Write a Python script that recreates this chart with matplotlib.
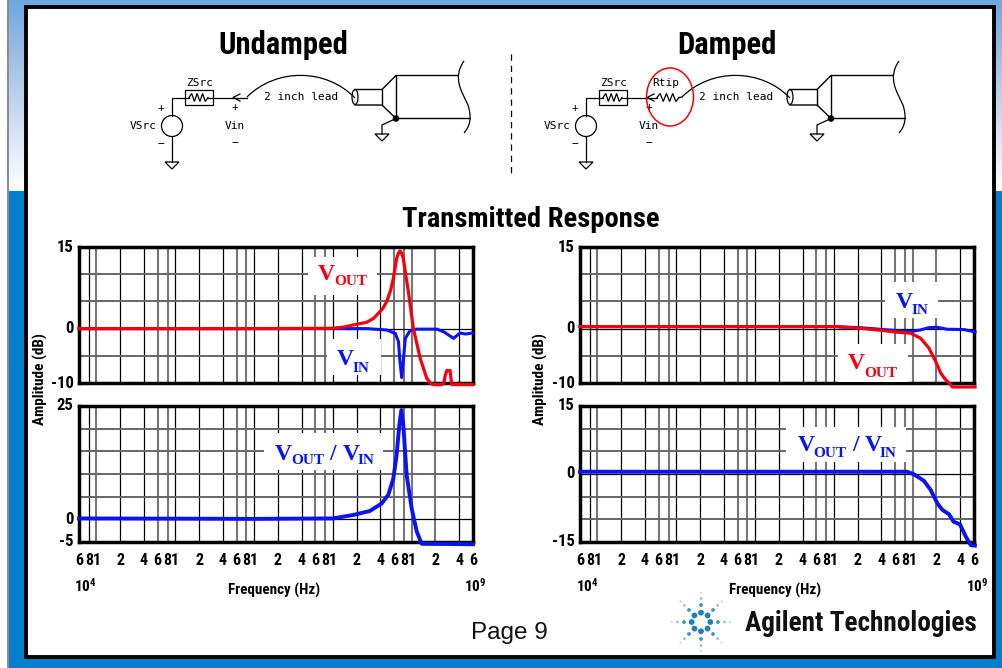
import numpy as np
import matplotlib
matplotlib.use('Agg')
import matplotlib.pyplot as plt
from matplotlib.colors import LinearSegmentedColormap
from matplotlib.patches import Rectangle, Ellipse, Circle, PathPatch, Polygon
from matplotlib.path import Path
from matplotlib.ticker import NullLocator
from matplotlib.transforms import ScaledTranslation

NARROW = ['Roboto Condensed', 'Roboto', 'DejaVu Sans']
plt.rcParams['font.family'] = NARROW
plt.rcParams['mathtext.fontset'] = 'custom'
plt.rcParams['mathtext.bf'] = 'Roboto Condensed:bold'

W, H = 1003, 668
RED = '#f5000f'
BLUE = '#0a14f0'

# Frequency grid of the plots
tick_freqs = [6e3, 8e3, 1e4, 2e4, 4e4, 6e4, 8e4, 1e5, 2e5, 4e5, 6e5, 8e5, 1e6, 2e6, 4e6,
              6e6, 8e6, 1e7, 2e7, 4e7, 6e7, 8e7, 1e8, 2e8, 4e8, 6e8]
tick_labels = ['6', '8', '1', '2', '4', '6', '8', '1', '2', '4', '6', '8', '1', '2', '4',
               '6', '8', '1', '2', '4', '6', '8', '1', '2', '4', '6']
# thin black or thick grey, the picture has both
tick_grey = [0, 0, 1, 0, 0, 1, 1, 0, 0, 0, 1, 1, 0, 0, 0,
             1, 1, 0, 0, 0, 1, 1, 1, 1, 0, 1]

# Undamped, top
und_out_f = [6e3, 1e5, 1e6, 1e7, 1.4e7, 1.81e7, 2.68e7, 3.3e7, 3.77e7, 4.3e7, 4.81e7, 5.4e7, 5.85e7, 6.44e7,
             6.8e7, 7.11e7, 7.45e7, 7.83e7, 9.08e7, 1.05e8, 1.28e8, 1.55e8, 1.75e8, 1.88e8, 2.40e8, 2.55e8,
             2.65e8, 2.79e8, 3.07e8, 3.22e8, 6e8]
und_out_db = [0, 0, 0, 0.06, 0.3, 0.67, 1.16, 1.9, 2.8, 3.7, 4.94, 7, 9.2, 12.87,
              13.9, 14.27, 13.9, 12.87, 6.77, 0.06, -5.4, -9.1, -10.1, -10.3, -10.3, -10.1,
              -8.8, -7.7, -7.7, -10.3, -10.3]
und_in_f = [6e3, 1e5, 1e6, 1e7, 2.7e7, 4.8e7, 6.2e7, 6.8e7, 7.1e7, 7.46e7, 7.83e7, 8.3e7, 9.5e7,
            1.15e8, 2.1e8, 2.6e8, 3.4e8, 4.1e8, 4.8e8, 6e8]
und_in_db = [0, 0, 0, 0, 0, -0.25, -0.9, -2.4, -6, -9, -6, -1.8, -0.4,
             -0.1, -0.1, -0.65, -1.8, -0.8, -1.0, -0.8]

# Undamped, bottom
und_ratio_f = [6e3, 1e5, 1e6, 1e7, 1.81e7, 2.95e7, 4.16e7, 5.05e7, 5.85e7, 6.44e7, 6.97e7, 7.4e7, 7.83e7,
               8.63e7, 1e8, 1.16e8, 1.34e8, 6e8]
und_ratio_db = [0.2, 0.15, 0.1, 0.2, 0.96, 1.84, 3.5, 5.4, 9, 14.2, 20.8, 24.1, 20.8,
                9.8, 2.4, -2.7, -5.4, -5.5]

# Damped, top
dmp_out_f = [6e3, 1e5, 1e6, 1.05e7, 2.4e7, 4.32e7, 6.38e7, 9.44e7, 1.26e8, 1.61e8, 1.96e8, 2.27e8, 2.62e8,
             2.9e8, 3.19e8, 6.2e8]
dmp_out_db = [0.37, 0.37, 0.37, 0.37, 0, -0.37, -0.67, -0.85, -1.77, -3.6, -6.04, -8.17, -9.4,
              -10, -10.73, -10.73]
dmp_in_f = [6e3, 1e5, 1e6, 1.05e7, 2.4e7, 4.32e7, 6.38e7, 9.44e7, 1.26e8, 1.61e8, 2.04e8, 2.75e8, 4.47e8, 6.2e8]
dmp_in_db = [0.37, 0.37, 0.37, 0.37, 0.12, -0.18, -0.37, -0.55, -0.24, 0.18, 0.24, -0.12, -0.18, -0.6]

# Damped, bottom
dmp_ratio_f = [6e3, 1e5, 1e6, 1e7, 8.5e7, 1.04e8, 1.39e8, 1.69e8, 2.06e8, 2.38e8, 2.9e8, 3.29e8, 3.98e8,
               4.72e8, 5.46e8, 6.17e8]
dmp_ratio_db = [0.5, 0.5, 0.5, 0.5, 0.5, -0.07, -1.5, -3.5, -6.5, -7.9, -8.9, -10.5, -11.1,
                -13.8, -15.7, -15.8]


def px_axes(fig, left, top, right, bottom, zorder=1):
    return fig.add_axes([left / W, 1 - bottom / H, (right - left) / W, (bottom - top) / H], zorder=zorder)


def draw_plot(fig, box, ylim, ylabels, show_x, series):
    ax = px_axes(fig, *box)
    ax.set_xscale('log')
    ax.set_xlim(6e3, 6e8)
    ax.set_ylim(*ylim)
    ax.xaxis.set_minor_locator(NullLocator())
    ax.set_xticks(tick_freqs)
    ax.set_xticklabels(tick_labels if show_x else [''] * len(tick_labels),
                       fontsize=11.5, fontweight='bold')
    ax.set_yticks(np.arange(ylim[0], ylim[1] + 1, 5))
    ax.set_yticklabels([str(v) if v in ylabels else '' for v in np.arange(ylim[0], ylim[1] + 1, 5)],
                       fontsize=12, fontweight='bold')
    ax.tick_params(axis='both', length=0, pad=4)
    ax.tick_params(axis='x', pad=8)
    # the amplitude numbers sit a little above their lines
    lift = ScaledTranslation(0, 1.5 / 100, fig.dpi_scale_trans)
    for label in ax.get_yticklabels():
        label.set_transform(label.get_transform() + lift)
    ax.grid(True)
    for line, grey in zip(ax.get_xgridlines(), tick_grey):
        line.set_color('#777777' if grey else 'black')
        line.set_linewidth(1.5 if grey else 0.9)
    for line, val in zip(ax.get_ygridlines(), np.arange(ylim[0], ylim[1] + 1, 5)):
        line.set_color('black' if val == 0 else '#666666')
        line.set_linewidth(0.9 if val == 0 else 1.4)
    for spine in ax.spines.values():
        spine.set_linewidth(2.5)
    for f, db, col, lw in series:
        ax.plot(f, db, color=col, linewidth=lw, clip_on=False, zorder=3, solid_joinstyle='round')
    return ax


fig = plt.figure(figsize=(W / 100, H / 100), dpi=100, facecolor='white')

# Slide background and all drawings share one axes in pixel coordinates
bg = fig.add_axes([0, 0, 1, 1], zorder=0)
cmap = LinearSegmentedColormap.from_list('slide', ['#6ca8df', '#a4c2e8', '#d5e0f3', '#ffffff'])
bg.imshow(np.linspace(0, 1, 200).reshape(-1, 1), cmap=cmap, aspect='auto', extent=(9, W, 191, 0))
bg.add_patch(Rectangle((9, 191), W - 9, H - 191, facecolor='#0080cc', edgecolor='none'))
bg.plot([8.5, 8.5], [0, H], color='#777777', linewidth=1.2)
bg.add_patch(Rectangle((26, 6.5), 968, 650, facecolor='white', edgecolor='black', linewidth=2.8, zorder=2))
bg.set_xlim(0, W)
bg.set_ylim(H, 0)
bg.axis('off')


def wire(pts, color='black', lw=0.9):
    pts = np.array(pts)
    bg.plot(pts[:, 0], pts[:, 1], color=color, linewidth=lw, zorder=3, solid_joinstyle='miter')


def ground(x, y):
    bg.add_patch(Polygon([(x - 7, y), (x + 7, y), (x, y + 7)], closed=True, fill=False,
                         edgecolor='black', linewidth=0.9, zorder=3))


def zigzag(x0, x1, y):
    xs = np.linspace(x0, x1, 8)
    ys = [y, y - 4, y + 4, y - 4, y + 4, y - 4, y + 4, y]
    wire(np.column_stack([xs, ys]))


def schem_text(x, y, s):
    bg.text(x, y, s, fontsize=8, family='DejaVu Sans Mono', ha='center', va='center', zorder=3)


def draw_circuit(dx, damped):
    # source side
    sx = 172 + dx
    bg.add_patch(Circle((sx, 126), 10.5, fill=False, edgecolor='black', linewidth=0.9, zorder=3))
    wire([(sx, 115.5), (sx, 97.5), (sx + 13, 97.5)])
    bg.add_patch(Rectangle((sx + 13, 90), 28, 15, fill=False, edgecolor='black', linewidth=0.9, zorder=3))
    wire([(sx + 13, 97.5), (sx + 17, 97.5)])
    zigzag(sx + 17, sx + 36, 97.5)
    wire([(sx + 36, 97.5), (sx + 41, 97.5)])
    wire([(sx, 136.5), (sx, 162)])
    ground(sx, 162)
    wire([(sx + 68, 94), (sx + 61, 97.5), (sx + 68, 101)])
    schem_text(sx + 28, 83, 'ZSrc')
    schem_text(sx - 29, 126, 'VSrc')
    schem_text(sx - 11, 108, '+')
    schem_text(sx - 11, 144, '\u2212')
    schem_text(sx + 63, 107, '+')
    schem_text(sx + 63, 126, 'Vin')
    schem_text(sx + 63, 143, '\u2212')

    # lead and probe body
    tx = 396 + (435 if damped else 0)
    lead_start = 682 if damped else 247
    if damped:
        wire([(sx + 41, 97.5), (sx + 71, 97.5)])
        zigzag(sx + 71, sx + 93, 97.5)
        wire([(sx + 93, 97.5), (lead_start, 97)])
        schem_text(666, 83, 'Rtip')
        bg.add_patch(Ellipse((670, 97), 47, 58, fill=False, edgecolor=RED, linewidth=1.1, zorder=4))
    else:
        wire([(sx + 41, 97.5), (lead_start, 97.5)])
    mid = (lead_start + tx - 41) / 2
    bg.add_patch(PathPatch(Path([(lead_start, 97), (mid - 25, 68), (mid + 25, 68), (tx - 41, 98)],
                                [Path.MOVETO, Path.CURVE4, Path.CURVE4, Path.CURVE4]),
                           fill=False, edgecolor='black', linewidth=0.9, zorder=3))
    schem_text(mid, 97, '2 inch lead')
    bg.add_patch(Ellipse((tx - 41, 97), 6, 15, fill=False, edgecolor='black', linewidth=0.9, zorder=3))
    wire([(tx - 41, 89.5), (tx - 14, 89.5), (tx, 75.5), (tx + 62, 75.5)], lw=1.0)
    wire([(tx - 41, 105), (tx - 14, 105), (tx, 118.5), (tx + 74, 118.5)], lw=1.0)
    wire([(tx - 14, 89.5), (tx - 14, 105)], lw=1.0)
    wire([(tx, 75.5), (tx, 118.5)], lw=1.0)
    bg.add_patch(PathPatch(Path([(tx + 68, 61), (tx + 56, 78), (tx + 66, 92), (tx + 72, 105),
                                 (tx + 76, 118), (tx + 74, 126), (tx + 68, 133)],
                                [Path.MOVETO] + [Path.CURVE4] * 6),
                           fill=False, edgecolor='black', linewidth=0.9, zorder=3))
    bg.add_patch(Circle((tx, 118.5), 2.6, color='black', zorder=4))
    wire([(tx, 118.5), (tx - 14, 125), (tx - 14, 134)])
    ground(tx - 14, 134)


draw_circuit(0, False)
draw_circuit(414, True)
bg.plot([511.5, 511.5], [54, 177], color='black', linewidth=0.9, dashes=(5, 4), zorder=3)

# Titles
bg.text(283, 54, 'Undamped', fontsize=22, fontweight='bold', ha='center', va='baseline', zorder=3)
bg.text(727, 54, 'Damped', fontsize=22, fontweight='bold', ha='center', va='baseline', zorder=3)
bg.text(531, 227, 'Transmitted Response', fontsize=20.5, fontweight='bold', ha='center', va='baseline', zorder=3)

# Plots
draw_plot(fig, (79, 247, 473, 383), (-10, 15), [15, 0, -10], False,
          [(und_in_f, und_in_db, BLUE, 2.2), (und_out_f, und_out_db, RED, 2.3)])
draw_plot(fig, (79, 406, 473, 542), (-5, 25), [25, 0, -5], True,
          [(und_ratio_f, und_ratio_db, BLUE, 2.8)])
draw_plot(fig, (580, 247, 974, 383), (-10, 15), [15, 0, -10], False,
          [(dmp_in_f, dmp_in_db, BLUE, 2.2), (dmp_out_f, dmp_out_db, RED, 2.3)])
draw_plot(fig, (580, 406, 974, 542), (-15, 15), [15, 0, -15], True,
          [(dmp_ratio_f, dmp_ratio_db, BLUE, 2.8)])

# Everything over the plots goes on one more full axes
top = fig.add_axes([0, 0, 1, 1], zorder=2)
top.set_xlim(0, W)
top.set_ylim(H, 0)
top.axis('off')
top.patch.set_alpha(0)


def white_box(x0, y0, x1, y1):
    top.add_patch(Rectangle((x0, y0), x1 - x0, y1 - y0, facecolor='white', edgecolor='none'))


def sym(x, y, sub_x, sub_y, sub, color):
    top.text(x, y, 'V', color=color, fontsize=17, fontweight='bold', family='Liberation Serif', va='baseline')
    top.text(sub_x, sub_y, sub, color=color, fontsize=11, fontweight='bold', family='Liberation Serif',
             va='baseline')


white_box(308, 257, 377, 295)
sym(318, 280, 334, 285, 'OUT', RED)
white_box(327, 339, 381, 375)
sym(337, 365, 353, 372, 'IN', BLUE)
white_box(264, 433, 383, 470)
sym(275, 460, 291, 464, 'OUT', BLUE)
top.text(329, 460, '/', color=BLUE, fontsize=17, fontweight='bold', family='Liberation Serif', va='baseline')
sym(343, 460, 358, 464, 'IN', BLUE)
white_box(885, 282, 938, 318)
sym(896, 308, 912, 314, 'IN', BLUE)
white_box(838, 344, 908, 382)
sym(848, 369, 864, 377, 'OUT', RED)
white_box(786, 427, 906, 462)
sym(798, 451, 813, 457, 'OUT', BLUE)
top.text(852, 451, '/', color=BLUE, fontsize=17, fontweight='bold', family='Liberation Serif', va='baseline')
sym(865, 451, 880, 457, 'IN', BLUE)

# Axis captions
for x, y in [(40, 379), (540, 379)]:
    top.text(x, y, 'Amplitude (dB)', fontsize=11, fontweight='bold', rotation=90, ha='center', va='center')
for x, lo, hi in [(274, 85, 475), (775, 587, 977)]:
    top.text(x, 590, 'Frequency (Hz)', fontsize=10.8, fontweight='bold', ha='center', va='center')
    top.text(lo, 586, r'$\mathbf{10^{4}}$', fontsize=11, ha='center', va='center')
    top.text(hi, 586, r'$\mathbf{10^{9}}$', fontsize=11, ha='center', va='center')

top.text(471, 639, 'Page 9', fontsize=17.5, family='Liberation Sans', va='baseline', color='#111111')
top.text(745, 631, 'Agilent Technologies', fontsize=19.6, fontweight='bold', va='baseline', color='#111111')

# Logo: ring of eight dots and spokes fading outward
logo_x, logo_y = 701, 622
for k in range(8):
    ang = k * np.pi / 4
    for rad, size, col in [(9.3, 2.9, '#1f7fc0'), (17, 1.9, '#3f93c9'), (23.5, 1.3, '#86b9dc'), (29, 1.0, '#b9d6ea')]:
        top.add_patch(Circle((logo_x + rad * np.cos(ang), logo_y + rad * np.sin(ang)), size,
                             facecolor=col, edgecolor='none'))

fig.savefig('out.png', dpi=100)
